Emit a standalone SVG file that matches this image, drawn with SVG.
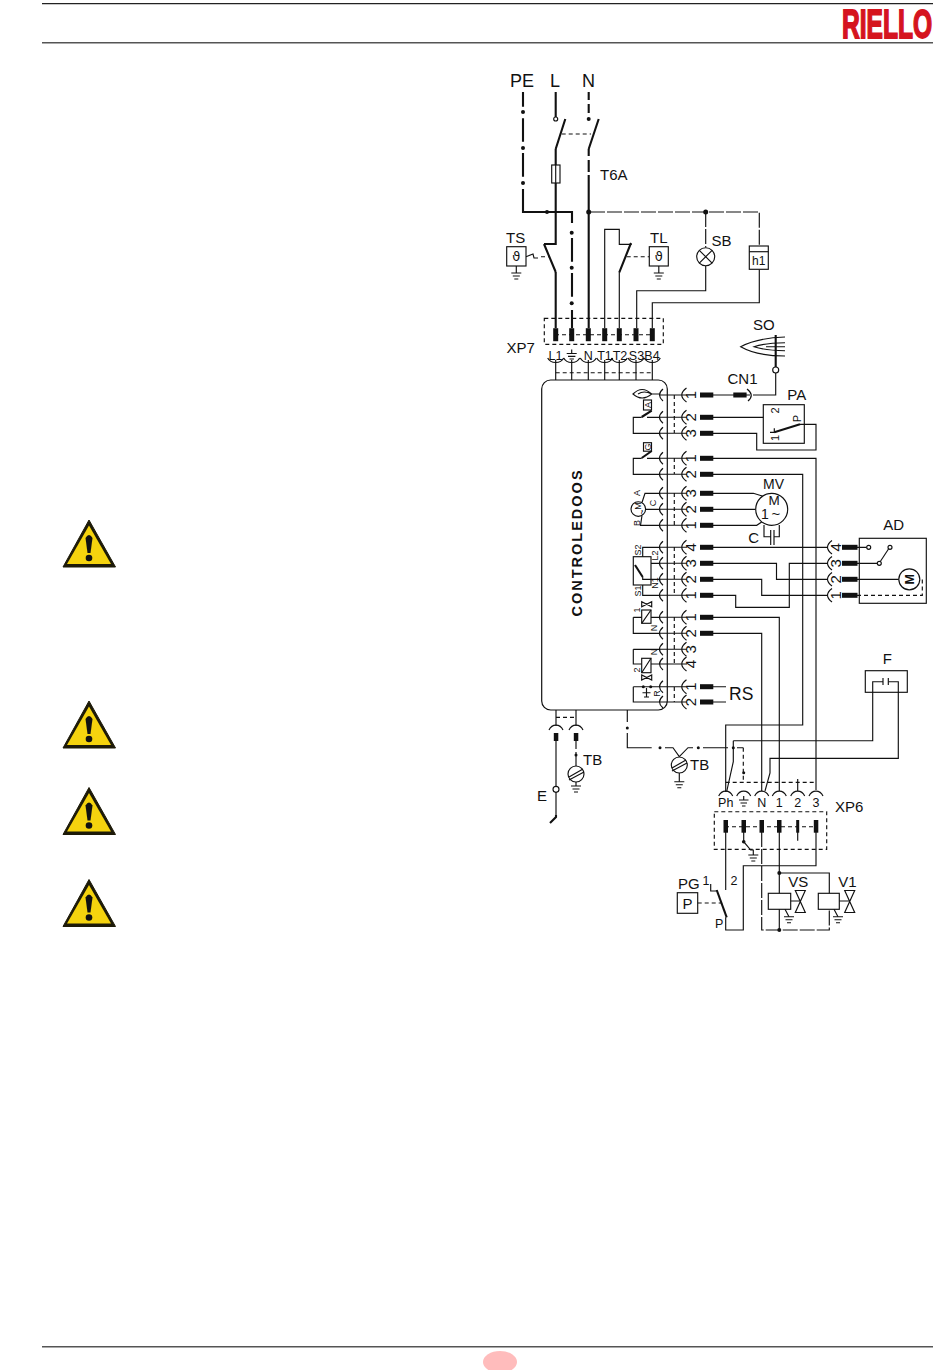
<svg xmlns="http://www.w3.org/2000/svg" width="950" height="1370" viewBox="0 0 950 1370">
<style>
text{font-family:"Liberation Sans",Arial,sans-serif;fill:#111}
.w,.th,.da,.ld,.sh{fill:none;stroke:#111;stroke-width:1.150}
.th,.sh{stroke-width:2.100}
.da{stroke-dasharray:4 3}
.ld{stroke-dasharray:15 2}
.lb{font-size:18px}
.md{font-size:15px}
.sm{font-size:15px}
.ss{font-size:12.500px}
.xs{font-size:9px}
.pin,.dot{fill:#111;stroke:none}
.o{fill:#fff;stroke:#111;stroke-width:1.150}
</style>
<defs>
<path id="gnd" class="w" d="M-5,0H5M-3.500,3H3.500M-2,6H2"/>
<path id="sd" class="w" d="M-8,-4C-5,2 5,2 8,-4"/>
<path id="su" class="w" d="M-7,5C-4,-1.500 4,-1.500 7,5"/>
<g id="row"><path class="w" d="M663,-6Q656,0 663,6M659.500,0H681M686.500,-7Q677,0 686.500,7M681,0H687"/></g>
<rect id="hp" class="pin" x="0" y="-2.500" width="13.300" height="5"/>
<rect id="hq" class="pin" x="0" y="-2.500" width="15.500" height="5"/>
<rect id="vp" class="pin" x="-2.500" y="-6.500" width="5" height="13"/>
<path id="bow" class="w" d="M-5,-11H5L-5,11H5Z"/>
<g id="warn"><path d="M26,0L52.500,47H0Z" fill="#1d1a08" stroke="#1d1a08" stroke-linejoin="round"/><path d="M26,5.500L48,44H4Z" fill="#f5d30e"/><path d="M22.500,18Q26,12 29.500,18L27.500,33H24.500Z" fill="#111"/><circle cx="26" cy="38" r="3.300" fill="#111"/></g>
</defs>

<g id="page">
<path d="M42,3.700H933" stroke="#222" stroke-width="1.200"/>
<path d="M42,42.800H933" stroke="#555" stroke-width="1.500"/>
<path d="M42,1346.800H933" stroke="#555" stroke-width="1.500"/>
<ellipse cx="500" cy="1362" rx="17" ry="11" fill="#ffbcbc"/>
<text id="logo" transform="translate(842,37.500) scale(.6,1)" font-size="41" font-weight="700" style="fill:#d5141e;stroke:#d5141e;stroke-width:1.800">RIELLO</text>
<use href="#warn" x="63" y="520"/>
<use href="#warn" x="63" y="701"/>
<use href="#warn" x="63" y="787.500"/>
<use href="#warn" x="63" y="879.500"/>
</g>

<g id="connectors">
<path class="th" d="M523,92V106.700M523,118.300V141.700M523,153V176.700M523,189V212H547M547,212H572V223M572,238V261.700M572,273V296.700M572,310V328"/>
<path class="th" d="M555.700,92V117M555.700,149V244H544M555.700,272V328"/>
<path class="th" d="M588.700,92V100M588.700,104V113M588.700,149V156M588.700,160V172M588.700,175V328"/>
<path class="sh" d="M555.700,149L565.300,119M588.700,149L598.700,119M544,244L555.700,272M619.300,272.300L631,243"/>
<path class="da" d="M561.700,134H591"/>
<path class="ld" d="M590,212H759.300V246"/>
<path class="ld" d="M705.700,212V247.500"/>
<path class="w" d="M705.700,266V290.700H636.700V328M759.300,269.300V302.700H652.300V328"/>
<path class="w" d="M604.700,328V229.300H619.300V244.300H631.700M619.300,272V328"/>
<path class="da" d="M626.700,256.700H649.300"/>
<path class="w" d="M526,256.700L533,254L534,258H538"/>
<path class="da" d="M541,256.700H549"/>
<path class="da" d="M555.700,372.700H652.300"/>
<path class="w" d="M555.700,360V380M571.700,360V380M588.300,360V380M604.700,360V380M619.300,360V380M636,360V380M652.300,360V380"/>
<path class="da" d="M674.300,395V433M674.300,458V474M674.300,493V525M674.300,547V595M674.300,617V664M674.300,687V702"/>
<path class="w" d="M713,395H750"/>
<path class="w" d="M775.700,373V395H753"/>
<path class="w" d="M713,417.300H763.300M713,433.300H756.700V450H816V424.300H800"/>
<path class="w" d="M713,458.300H816V790M713,474.300H802.700V725H725.700V792"/>
<path class="w" d="M713,493.300H753.300L762.300,496M713,509.300H755.700M713,525.300H756.700L761.700,522"/>
<path class="w" d="M713,547.300H828M713,563.300H776.500V579.300H828M713,579.300H761.700V595.300H828M713,595.300H735.700V607.300H789.300V563.300H828"/>
<path class="w" d="M713,617.300H779.300V791M713,633.300H761.700V791"/>
<path class="w" d="M713,686.700H726M713,702H726"/>
<path class="w" d="M556,710V726M576,710V726M556,741V786M556,792V815"/>
<path class="sh" d="M556,815V817L550,823"/>
<path class="da" d="M556,717.300H576"/>
<path class="w" d="M576,741V749M576,752V766M576,782V786"/>
<path class="w" d="M627.300,710V722M627.300,733V747.700H651.700M665,747.700H673L679.300,756.700L688,747.700H693M703,747.700H728M737,747.700H743.300"/>
<path class="da" d="M743.300,747.700V782"/>
<path class="w" d="M679.300,773V781.700"/>
<path class="da" d="M725.700,782.300H816"/>
<path class="w" d="M733.300,740.700H872.700V681.700H883M888.300,681.700H898.300V758.300H770V773L765,791M733.300,740.700V761.700L726.700,791.500"/>
<path class="w" d="M797.700,779V791"/>
<path class="w" d="M725.700,832V890M725.700,917.300V930H743.300V865.700H816V832"/>
<path class="w" d="M743.700,832V841.700L750.700,850H753.300V855M797.700,832V840.700"/>
<path class="ld" d="M761.700,832V930H829.300V909.300"/>
<path class="w" d="M779.300,832V893.300M779.300,909.300V930M779.300,873H829.300V893.300"/>
<path class="da" d="M697.700,903H721.700"/>
<path class="sh" d="M716.700,890L726.700,917.300"/>
<path class="w" d="M710.700,884V891H716.700"/>
<path class="w" d="M785,909.300L789,916.700M834,909.300L838,916.700M790.700,901H800.300M839.300,901H849.700"/>
</g>

<g id="node-ts">
<rect class="o" x="506.700" y="246.700" width="19.300" height="19.300"/>
<text x="516.300" y="261" font-size="13" text-anchor="middle" style="font-family:'DejaVu Sans',sans-serif">ϑ</text>
<path class="w" d="M516.300,266V273"/>
<use href="#gnd" x="516.300" y="273"/>
<text class="md" x="506" y="243">TS</text>
</g>
<g id="node-tl">
<rect class="o" x="649.300" y="246.700" width="19" height="19.300"/>
<text x="658.800" y="261" font-size="13" text-anchor="middle" style="font-family:'DejaVu Sans',sans-serif">ϑ</text>
<path class="w" d="M658.800,266V273"/>
<use href="#gnd" x="658.800" y="273"/>
<text class="md" x="650" y="243">TL</text>
</g>
<g id="node-sb">
<circle class="o" cx="705.700" cy="256.700" r="9"/>
<path class="w" d="M699.300,250.300L712.100,263.100M712.100,250.300L699.300,263.100"/>
<text class="md" x="711.500" y="246">SB</text>
</g>
<g id="node-h1">
<rect class="o" x="749.300" y="246" width="19" height="23.300"/>
<path class="w" d="M749.300,251.700H768.300"/>
<text x="758.800" y="265" font-size="12" text-anchor="middle">h1</text>
</g>
<g id="node-mains">
<text class="lb" x="510" y="86.500">PE</text>
<text class="lb" x="550" y="86.500">L</text>
<text class="lb" x="582" y="86.500">N</text>
<circle class="dot" cx="523" cy="112" r="2"/><circle class="dot" cx="523" cy="148" r="2"/><circle class="dot" cx="523" cy="183" r="2"/>
<circle class="dot" cx="547" cy="212" r="2"/><circle class="dot" cx="588.700" cy="212" r="2.500"/><circle class="dot" cx="705.700" cy="212" r="2.500"/>
<circle class="dot" cx="571.700" cy="232.700" r="2"/><circle class="dot" cx="571.700" cy="267.700" r="2"/><circle class="dot" cx="571.700" cy="303.300" r="2"/>
<circle class="o" cx="555.700" cy="119" r="2"/><circle class="dot" cx="588.700" cy="119" r="2"/>
<rect class="o" x="551.700" y="165" width="8.300" height="18"/>
<path class="w" d="M555.700,165V183" stroke-width="2"/>
<text class="md" x="600" y="180">T6A</text>
</g>
<g id="node-xp7">
<rect class="da" x="544.300" y="318.300" width="119" height="26"/>
<path class="da" d="M555,334.700H652"/>
<use href="#vp" x="555.700" y="334.700"/><use href="#vp" x="571.700" y="334.700"/><use href="#vp" x="588.300" y="334.700"/><use href="#vp" x="604.700" y="334.700"/><use href="#vp" x="619.300" y="334.700"/><use href="#vp" x="636" y="334.700"/><use href="#vp" x="652.300" y="334.700"/>
<text class="md" x="506.500" y="352.700">XP7</text>
<g class="ss" text-anchor="middle"><text x="555.500" y="359.500">L1</text><text x="588.300" y="359.500">N</text><text x="604.500" y="359.500">T1</text><text x="620" y="359.500">T2</text><text x="636.500" y="359.500">S3</text><text x="652" y="359.500">B4</text></g>
<path class="w" d="M571.700,349.500V353.500M566.700,353.500H576.700M568,356.300H575.400M569.500,359H573.900"/>
<use href="#sd" x="555.700" y="362"/><use href="#sd" x="571.700" y="362"/><use href="#sd" x="588.300" y="362"/><use href="#sd" x="604.700" y="362"/><use href="#sd" x="619.300" y="362"/><use href="#sd" x="636" y="362"/><use href="#sd" x="652.300" y="362"/>
</g>

<g id="node-control">
<rect x="541.700" y="380" width="125.600" height="330" rx="9" fill="#fff" stroke="#111" stroke-width="1.200"/>
<text transform="translate(581.500,616.500) rotate(-90)" font-size="14.500" font-weight="700" letter-spacing="2">CONTROLEDOOS</text>
<g><use href="#row" y="395"/><use href="#row" y="417.300"/><use href="#row" y="433.300"/><use href="#row" y="458.300"/><use href="#row" y="474.300"/><use href="#row" y="493.300"/><use href="#row" y="509.300"/><use href="#row" y="525.300"/><use href="#row" y="547.300"/><use href="#row" y="563.300"/><use href="#row" y="579.300"/><use href="#row" y="595.300"/><use href="#row" y="617.300"/><use href="#row" y="633.300"/><use href="#row" y="649.300"/><use href="#row" y="664"/><use href="#row" y="686.700"/><use href="#row" y="702"/></g>
<g><use href="#hp" x="700" y="395"/><use href="#hp" x="700" y="417.300"/><use href="#hp" x="700" y="433.300"/><use href="#hp" x="700" y="458.300"/><use href="#hp" x="700" y="474.300"/><use href="#hp" x="700" y="493.300"/><use href="#hp" x="700" y="509.300"/><use href="#hp" x="700" y="525.300"/><use href="#hp" x="700" y="547.300"/><use href="#hp" x="700" y="563.300"/><use href="#hp" x="700" y="579.300"/><use href="#hp" x="700" y="595.300"/><use href="#hp" x="700" y="617.300"/><use href="#hp" x="700" y="633.300"/><use href="#hp" x="700" y="686.700"/><use href="#hp" x="700" y="702"/></g>
<g class="sm" text-anchor="middle">
<text transform="translate(696,395) rotate(-90)">1</text><text transform="translate(696,417.300) rotate(-90)">2</text><text transform="translate(696,433.300) rotate(-90)">3</text>
<text transform="translate(696,458.300) rotate(-90)">1</text><text transform="translate(696,474.300) rotate(-90)">2</text>
<text transform="translate(696,493.300) rotate(-90)">3</text><text transform="translate(696,509.300) rotate(-90)">2</text><text transform="translate(696,525.300) rotate(-90)">1</text>
<text transform="translate(696,547.300) rotate(-90)">4</text><text transform="translate(696,563.300) rotate(-90)">3</text><text transform="translate(696,579.300) rotate(-90)">2</text><text transform="translate(696,595.300) rotate(-90)">1</text>
<text transform="translate(696,617.300) rotate(-90)">1</text><text transform="translate(696,633.300) rotate(-90)">2</text><text transform="translate(696,649.300) rotate(-90)">3</text><text transform="translate(696,664) rotate(-90)">4</text>
<text transform="translate(696,686.700) rotate(-90)">1</text><text transform="translate(696,702) rotate(-90)">2</text>
</g>
<path class="w" d="M633,394Q642,385 651.700,394Q642,402 633,394ZM638,394Q644,390 651.700,394M651.700,394H659"/>
<rect class="w" x="643.500" y="400" width="8" height="10"/>
<text class="xs" transform="translate(650.800,405) rotate(-90)" text-anchor="middle">A</text>
<path class="sh" d="M641.700,417L651.700,410.700"/>
<path class="w" d="M659,417.300H647M641.700,417.300H633.300V433.300H659"/>
<rect class="w" x="643.500" y="442.700" width="8" height="8.500"/>
<text class="xs" transform="translate(650.800,447) rotate(-90)" text-anchor="middle">G</text>
<path class="sh" d="M641.700,458L651.700,451"/>
<path class="w" d="M659,458.300H647M641.700,458.300H633.300V474.300H659"/>
<circle class="o" cx="638.300" cy="509" r="7.300"/>
<text class="xs" transform="translate(640.800,506) rotate(-90)" text-anchor="middle">M</text>
<text class="xs" transform="translate(645,512) rotate(-90)" text-anchor="middle">~</text>
<text class="xs" transform="translate(639.500,493) rotate(-90)" text-anchor="middle">A</text>
<text class="xs" transform="translate(639.500,523) rotate(-90)" text-anchor="middle">B</text>
<path class="w" d="M642,502.500L645,493.300H659M645.600,509.300H659M642,515.500L640.500,525.300H659"/>
<text class="xs" transform="translate(655.500,503) rotate(-90)" text-anchor="middle">C</text>
<rect class="w" x="633.300" y="556.700" width="17.700" height="28.300"/>
<text class="xs" transform="translate(640.500,550) rotate(-90)" text-anchor="middle">S2</text>
<text class="xs" transform="translate(640.500,591) rotate(-90)" text-anchor="middle">S1</text>
<text class="xs" transform="translate(658,555.500) rotate(-90)" text-anchor="middle">L2</text>
<text class="xs" transform="translate(658,583) rotate(-90)" text-anchor="middle">N1</text>
<path class="sh" d="M635,565L642.700,577"/>
<path class="w" d="M642.700,556.700V547.300H659M651,563.300H659M642.700,577V579.300H659M642.700,585V595.300H659"/>
<path class="w" d="M641.700,601.700V606.700L651.700,601.700V606.700Z"/>
<rect class="w" x="641.700" y="610" width="9.300" height="13.300"/>
<path class="w" d="M641.700,623.300L651,610M633.300,617.300H641.700M651,617.300H659M633.300,617.300V633.300H659"/>
<text class="xs" transform="translate(639.500,610) rotate(-90)" text-anchor="middle">1</text>
<text class="xs" transform="translate(656.500,628) rotate(-90)" text-anchor="middle">N</text>
<rect class="w" x="641.700" y="658.300" width="9.300" height="14.400"/>
<path class="w" d="M641.700,672.700L651,658.300M633.300,649.300H659M633.300,649.300V664H641.700M651,664H659"/>
<path class="w" d="M641.700,675V680L651.700,675V680Z"/>
<text class="xs" transform="translate(639.500,670) rotate(-90)" text-anchor="middle">2</text>
<text class="xs" transform="translate(656.500,652) rotate(-90)" text-anchor="middle">N</text>
<path class="w" d="M633.300,686.700H659M633.300,686.700V702H659M646.500,688V697M642.500,692.700H650.500M644,697H649"/>
<circle class="dot" cx="643.300" cy="686.700" r="1.500"/><circle class="dot" cx="650.700" cy="686.700" r="1.500"/>
<text class="xs" transform="translate(659.500,693.500) rotate(-90)" text-anchor="middle">R</text>
</g>

<g id="node-so">
<text class="md" x="753" y="329.500">SO</text>
<path class="w" d="M785,337Q757,338 740.700,346.700Q757,356 785,356M785,342.700Q765,343 754,346.700Q765,350.500 785,350.700M766,346.700H785"/>
<path class="sh" d="M775.700,335V367"/>
<circle class="o" cx="775.700" cy="370" r="3"/>
</g>
<g id="node-cn1">
<text class="md" x="727.500" y="383.500">CN1</text>
<use href="#hp" x="733.300" y="395"/>
<path class="w" d="M747,389Q755,395 748,401" stroke-width="1.500"/>
</g>
<g id="node-pa">
<rect class="w" x="763.300" y="404.700" width="41" height="38.600"/>
<text class="md" x="787.300" y="399.500">PA</text>
<text class="ss" transform="translate(778.500,410.500) rotate(-90)" text-anchor="middle" style="font-size:11px">2</text>
<text class="ss" transform="translate(801,418.500) rotate(-90)" text-anchor="middle" style="font-size:11px">P</text>
<text class="ss" transform="translate(778.500,438) rotate(-90)" text-anchor="middle" style="font-size:11px">1</text>
<path class="sh" d="M774.300,432.300L800,424.300"/>
<path class="w" d="M774.300,428.300V432.300H770"/>
</g>
<g id="node-mv">
<circle class="o" cx="771.700" cy="509.300" r="16"/>
<text class="md" x="763" y="488.500" style="font-size:14px">MV</text>
<text class="md" x="774" y="504.500" text-anchor="middle" style="font-size:13.500px">M</text>
<text class="md" x="765" y="518.500" text-anchor="middle" style="font-size:14px">1</text>
<text class="md" x="776" y="519" text-anchor="middle">~</text>
<path class="w" d="M764,525V536.700H770.700M770.700,530V545M774,530V545M774,536.700H779.300V525"/>
<text class="md" x="748.300" y="542.500">C</text>
</g>
<g id="node-ad">
<rect class="w" x="859.300" y="538.300" width="67" height="65"/>
<text class="md" x="883.300" y="529.500">AD</text>
<path class="w" d="M832,540.500Q823,547.300 832,554M832,556.500Q823,563.300 832,570M832,572.500Q823,579.300 832,586M832,588.500Q823,595.300 832,602"/>
<g class="sm" text-anchor="middle">
<text transform="translate(841,547.300) rotate(-90)">4</text><text transform="translate(841,563.300) rotate(-90)">3</text><text transform="translate(841,579.300) rotate(-90)">2</text><text transform="translate(841,595.300) rotate(-90)">1</text>
</g>
<use href="#hq" x="842" y="547.300"/><use href="#hq" x="842" y="563.300"/><use href="#hq" x="842" y="579.300"/><use href="#hq" x="842" y="595.300"/>
<path class="w" d="M855,547.300H866.700M855,563.300H877M855,579.300H899"/>
<circle class="o" cx="868.700" cy="547.300" r="2"/><circle class="o" cx="879.300" cy="563.300" r="2"/>
<path class="w" d="M880.300,561.500L888.500,549"/>
<circle class="o" cx="890" cy="547.300" r="2"/>
<circle class="o" cx="909.300" cy="579.300" r="10.500"/>
<text class="md" transform="translate(914,579.300) rotate(-90)" text-anchor="middle" style="font-size:12.500px;font-weight:700">M</text>
<path class="da" d="M857,595.300H922.300V579.300H920"/>
</g>
<g id="node-f">
<rect class="w" x="865.300" y="670.700" width="42" height="21.600"/>
<text class="md" x="882.700" y="663.500">F</text>
<path class="w" d="M883,678V685M888.300,678V685"/>
</g>
<g id="node-rs">
<text class="lb" x="729" y="700" style="font-size:17.500px">RS</text>
</g>
<g id="node-e">
<use href="#su" x="556" y="725"/>
<rect class="pin" x="553.800" y="733" width="4.500" height="8"/>
<circle class="o" cx="556" cy="789.300" r="3"/>
<text class="md" x="537" y="801">E</text>
</g>
<g id="node-tb1">
<use href="#su" x="576" y="725"/>
<rect class="pin" x="573.800" y="733" width="4.500" height="8"/>
<circle class="dot" cx="576" cy="755" r="1.500"/>
<circle class="o" cx="576" cy="774" r="8" stroke-width="1.500"/>
<path class="w" d="M569,777L583,769M569,780L584,772"/>
<use href="#gnd" x="576" y="786"/>
<text class="md" x="583" y="765">TB</text>
</g>
<g id="node-tb2">
<circle class="dot" cx="627.300" cy="728" r="1.500"/><circle class="dot" cx="660" cy="747.700" r="1.500"/><circle class="dot" cx="698.300" cy="747.700" r="1.500"/><circle class="dot" cx="733.300" cy="747.700" r="1.500"/><circle class="dot" cx="743.700" cy="772.700" r="1.500"/>
<circle class="o" cx="679.300" cy="765" r="8" stroke-width="1.500"/>
<path class="w" d="M672,768L686,760M672,771L687,763"/>
<use href="#gnd" x="679.300" y="781.700"/>
<text class="md" x="690" y="770">TB</text>
</g>
<g id="node-xp6">
<rect class="da" x="714.300" y="811.700" width="112.400" height="37.600"/>
<path class="da" d="M725,826.700H816"/>
<text class="md" x="835" y="811.700">XP6</text>
<use href="#su" x="725.700" y="791"/><use href="#su" x="743.700" y="791"/><use href="#su" x="761.700" y="791"/><use href="#su" x="779.300" y="791"/><use href="#su" x="797.700" y="791"/><use href="#su" x="816" y="791"/>
<g class="ss" text-anchor="middle"><text x="725.700" y="806.500">Ph</text><text x="761.700" y="806.500">N</text><text x="779.300" y="806.500">1</text><text x="797.700" y="806.500">2</text><text x="816" y="806.500">3</text></g>
<path class="w" d="M743.700,796V800M739,800H748.500M740.500,803H747M742,806H745.500"/>
<rect class="pin" x="723.500" y="820" width="4.500" height="12.700"/><rect class="pin" x="741.500" y="820" width="4.500" height="12.700"/><rect class="pin" x="759.500" y="820" width="4.500" height="12.700"/><rect class="pin" x="777" y="820" width="4.500" height="12.700"/><rect class="pin" x="796.200" y="820" width="3" height="12.700"/><rect class="pin" x="813.800" y="820" width="4.500" height="12.700"/>
<circle class="dot" cx="743.700" cy="841.700" r="1.800"/>
<use href="#gnd" x="753.300" y="855"/>
</g>
<g id="node-pg">
<rect class="w" x="677.300" y="892.700" width="20.400" height="20.600"/>
<text class="md" x="687.500" y="909" text-anchor="middle">P</text>
<text class="md" x="678" y="888.500">PG</text>
<text class="ss" x="702.500" y="885">1</text>
<text class="ss" x="730.500" y="885">2</text>
<text class="ss" x="715" y="928">P</text>
</g>
<g id="node-vs">
<text class="md" x="788.300" y="887">VS</text>
<rect class="w" x="768.300" y="893.300" width="22.400" height="16"/>
<use href="#bow" x="800.300" y="901.500"/>
<use href="#gnd" x="789" y="916.700"/>
<circle class="dot" cx="779.300" cy="873" r="2"/><circle class="dot" cx="779.300" cy="930" r="2"/>
</g>
<g id="node-v1">
<text class="md" x="838.300" y="887">V1</text>
<rect class="w" x="818.300" y="893.300" width="21" height="16"/>
<use href="#bow" x="849.700" y="901.500"/>
<use href="#gnd" x="838" y="916.700"/>
</g>
</svg>
